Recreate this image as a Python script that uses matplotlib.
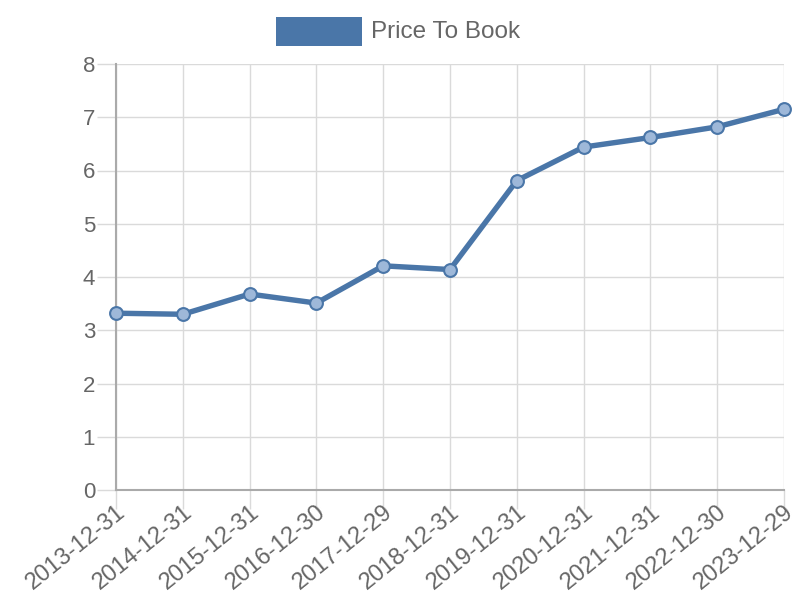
import matplotlib
matplotlib.use("Agg")
import matplotlib.pyplot as plt
from matplotlib.patches import Rectangle

dates = ["2013-12-31", "2014-12-31", "2015-12-31", "2016-12-30", "2017-12-29",
         "2018-12-31", "2019-12-31", "2020-12-31", "2021-12-31", "2022-12-30", "2023-12-29"]
price_to_book = [3.32, 3.30, 3.68, 3.51, 4.21, 4.14, 5.81, 6.44, 6.62, 6.82, 7.15]
yticks = [0, 1, 2, 3, 4, 5, 6, 7, 8]

plt.rcParams['font.family'] = ['Liberation Sans', 'DejaVu Sans']
color = '#4a76a8'
txt = '#666666'

fig = plt.figure(figsize=(8, 6), dpi=100)
ax = fig.add_axes([116/800, 1 - 490/600, (784-116)/800, (490-64)/600])
x = list(range(len(dates)))
ax.plot(x, price_to_book, color=color, lw=3.9, zorder=3, solid_joinstyle='round', clip_on=False)
ax.scatter(x, price_to_book, s=85, facecolor=(0.62, 0.72, 0.85), edgecolor=color, linewidth=1.5,
           zorder=4, clip_on=False)
ax.set_xlim(0, len(dates) - 1)
ax.set_ylim(0, 8)
ax.set_yticks(yticks)
ax.set_xticks(x)
ax.set_xticklabels(dates, rotation=39, ha='right', va='top', rotation_mode='anchor', fontsize=17)
ax.grid(True, color='#dadada', lw=1)
ax.set_axisbelow(True)
for s in ['top', 'right']:
    ax.spines[s].set_visible(False)
for s in ['left', 'bottom']:
    ax.spines[s].set_color('#aaaaaa')
    ax.spines[s].set_linewidth(1.5)
ax.tick_params(axis='both', colors='#dadada', labelcolor=txt, width=1)
ax.tick_params(axis='y', length=14, pad=1, labelsize=16)
ax.tick_params(axis='x', length=14, pad=-6)

# legend
fig.patches.append(Rectangle((276/800, 1 - 46/600), 86/800, 29/600, transform=fig.transFigure,
                             facecolor=color, edgecolor='none'))
fig.text(371/800, 1 - 32/600, "Price To Book", color=txt, fontsize=17.5, va='center', ha='left')

fig.savefig("out.png", dpi=100)
